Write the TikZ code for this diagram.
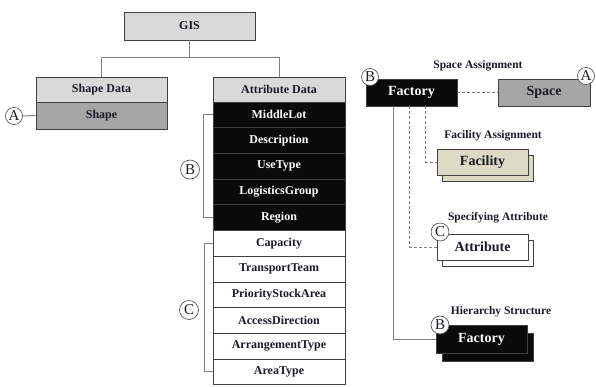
\documentclass[tikz,border=0pt]{standalone}
\usepackage{fontspec}
\setmainfont{Liberation Serif}
\usetikzlibrary{calc}
\definecolor{hdr}{HTML}{D9D9D9}
\definecolor{shp}{HTML}{A6A6A6}
\definecolor{facc}{HTML}{DDD9C3}
\definecolor{blk}{HTML}{0A0A0A}
\definecolor{edgec}{HTML}{404040}
\definecolor{connc}{HTML}{808080}
\definecolor{txt}{HTML}{1A1A2A}
\begin{document}
\begin{tikzpicture}[x=1pt,y=-1pt,
  box/.style={draw=edgec, line width=0.8pt, inner sep=0pt, text=txt,
    font=\bfseries\fontsize{12}{13}\selectfont},
  bigbox/.style={draw=edgec, line width=0.8pt, inner sep=0pt, text=txt,
    minimum width=91, font=\bfseries\fontsize{14}{16}\selectfont},
  lbl/.style={inner sep=0pt, text=txt, font=\bfseries\fontsize{11.5}{13}\selectfont},
  conn/.style={draw=connc, line width=1pt},
  dconn/.style={draw=connc, line width=1pt, dash pattern=on 3pt off 2pt},
  circ/.style={circle, draw=black!65, fill=white, line width=0.7pt, inner sep=0pt,
    minimum size=17, text=txt, font=\fontsize{15}{15}\selectfont}]
\useasboundingbox (0,0) rectangle (596,386);

% ---------- left tree ----------
\node[box, fill=hdr, minimum width=131, minimum height=28] (gis) at (189.5,26) {GIS};
\node[box, fill=hdr, minimum width=131, minimum height=25] (sd) at (101.5,89.5) {Shape Data};
\node[box, fill=shp, minimum width=131, minimum height=27] (shape) at (101.5,115.5) {Shape};
\node[box, fill=hdr, minimum width=132, minimum height=25] (ad) at (279,89.5) {Attribute Data};

\foreach \t [count=\i] in {MiddleLot,Description,UseType,LogisticsGroup,Region}{
  \node[box, fill=blk, text=white, minimum width=132, minimum height=25.7]
    (r\i) at (279,{102+25.7*\i-12.85}) {\t};
}
\foreach \t [count=\j from 6] in {Capacity,TransportTeam,PriorityStockArea,AccessDirection,ArrangementType,AreaType}{
  \node[box, fill=white, minimum width=132, minimum height=25.7]
    (r\j) at (279,{102+25.7*\j-12.85}) {\t};
}

\draw[conn] (gis.south) -- ++(0,17) coordinate (gj);
\draw[conn] (gj) -| (sd.north);
\draw[conn] (gj) -| (ad.north);

\node[circ] (ca) at (14,116) {A};
\draw[conn] (ca.east) -- (shape.west);

\draw[conn] (r1.west) -- ++(-9,0) |- (r5.west);
\draw[conn] (r6.west) -- ++(-8,0) |- (r11.west);
\node[circ, minimum size=19] (cb) at (190,169.5) {B};
\node[circ, minimum size=19] (cc) at (189,310) {C};

% ---------- right side ----------
\node[box, bigbox, fill=blk, text=white, minimum height=27] (f1) at (411.5,92.5) {Factory};
\node[box, bigbox, fill=shp, minimum width=92, minimum height=27] (sp) at (544,92.5) {Space};
\node[lbl] (lsa) at (478,66) {Space Assignment};
\draw[dconn] (f1.east) -- (sp.west);

\node[box, bigbox, fill=facc, minimum height=26] (facb) at (487.5,168) {};
\node[box, bigbox, fill=facc, minimum height=26] (fac) at (482.5,162) {Facility};
\node[lbl] (lfa) at (493,136) {Facility Assignment};

\node[box, bigbox, fill=white, minimum height=26] (attb) at (487.5,253) {};
\node[box, bigbox, fill=white, minimum height=26] (att) at (482.5,247) {Attribute};
\node[lbl] (lspec) at (498,218) {Specifying Attribute};

\node[box, bigbox, fill=blk, minimum height=28] (f2b) at (488,347) {};
\node[box, bigbox, fill=blk, text=white, minimum height=28] (f2) at (481.5,339) {Factory};
\node[lbl] (lhs) at (501,312) {Hierarchy Structure};

\draw[dconn] ([xshift=60pt]f1.south west) |- (fac.west);
\draw[dconn] ([xshift=44pt]f1.south west) |- (att.west);
\draw[conn] ([xshift=28pt]f1.south west) |- (f2.west);

\node[circ] (cb1) at (370,77) {B};
\node[circ] (ca1) at (586,76) {A};
\node[circ, minimum size=18] (cc1) at (440,232) {C};
\node[circ, minimum size=18] (cb2) at (440,325) {B};
\end{tikzpicture}
\end{document}
